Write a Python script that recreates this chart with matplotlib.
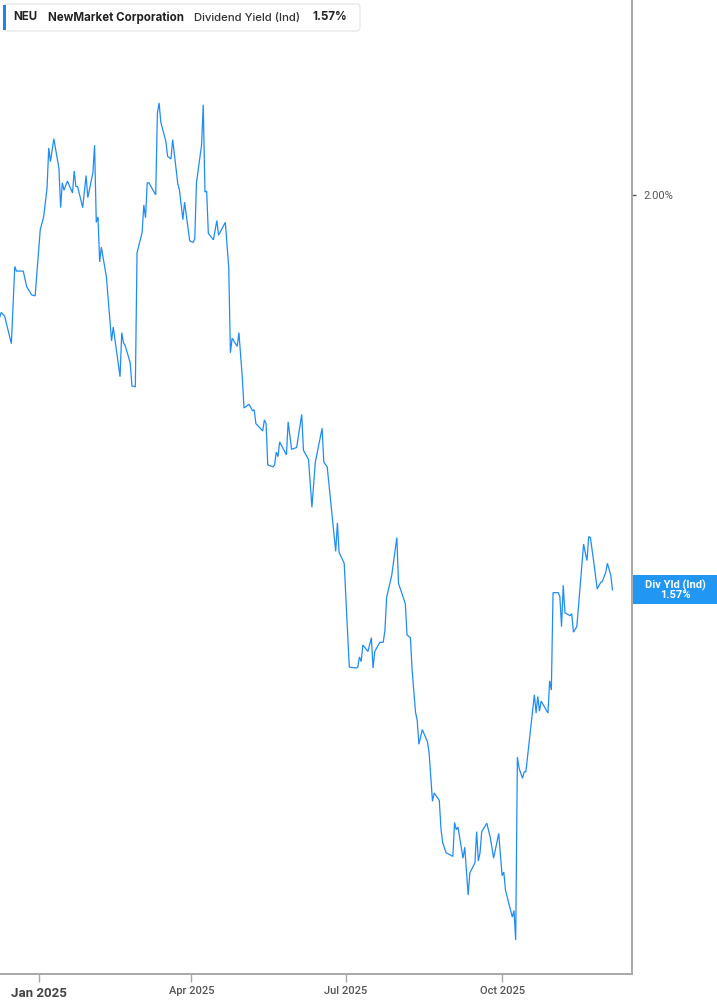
import matplotlib
matplotlib.use("Agg")
import matplotlib.pyplot as plt
import matplotlib.dates as mdates
from matplotlib.patches import Rectangle, FancyBboxPatch
from matplotlib.transforms import blended_transform_factory
import pandas as pd

# ---- data ----
dates = [
    "2024-12-09", "2024-12-10", "2024-12-12", "2024-12-16", "2024-12-18", "2024-12-19",
    "2024-12-23", "2024-12-25", "2024-12-28", "2024-12-30",
    "2025-01-02", "2025-01-04", "2025-01-06", "2025-01-07", "2025-01-08", "2025-01-10",
    "2025-01-13", "2025-01-14", "2025-01-15", "2025-01-16", "2025-01-18", "2025-01-21",
    "2025-01-22", "2025-01-23", "2025-01-24", "2025-01-27", "2025-01-29", "2025-01-30",
    "2025-02-02", "2025-02-03", "2025-02-04", "2025-02-05", "2025-02-06", "2025-02-07",
    "2025-02-10", "2025-02-13", "2025-02-14", "2025-02-18", "2025-02-19", "2025-02-20",
    "2025-02-21", "2025-02-24", "2025-02-25", "2025-02-27", "2025-02-28",
    "2025-03-03", "2025-03-04", "2025-03-05", "2025-03-06", "2025-03-07", "2025-03-11",
    "2025-03-12", "2025-03-13", "2025-03-14", "2025-03-17", "2025-03-18", "2025-03-20",
    "2025-03-21", "2025-03-24", "2025-03-25", "2025-03-27", "2025-03-28", "2025-03-31",
    "2025-04-02", "2025-04-03", "2025-04-04", "2025-04-07", "2025-04-08", "2025-04-09",
    "2025-04-10", "2025-04-11", "2025-04-14", "2025-04-16", "2025-04-17", "2025-04-21",
    "2025-04-23", "2025-04-24", "2025-04-25", "2025-04-28", "2025-04-29",
    "2025-05-01", "2025-05-02", "2025-05-05", "2025-05-07", "2025-05-08", "2025-05-09",
    "2025-05-13", "2025-05-14", "2025-05-15", "2025-05-16", "2025-05-19", "2025-05-20",
    "2025-05-21", "2025-05-22", "2025-05-23", "2025-05-27", "2025-05-28", "2025-05-30",
    "2025-06-02", "2025-06-05", "2025-06-06", "2025-06-09", "2025-06-11", "2025-06-13",
    "2025-06-17", "2025-06-18", "2025-06-20", "2025-06-25", "2025-06-26", "2025-06-27",
    "2025-06-30",
    "2025-07-03", "2025-07-07", "2025-07-08", "2025-07-09", "2025-07-10", "2025-07-11",
    "2025-07-14", "2025-07-16", "2025-07-17", "2025-07-18", "2025-07-21", "2025-07-23",
    "2025-07-24", "2025-07-25", "2025-07-28", "2025-07-31",
    "2025-08-01", "2025-08-05", "2025-08-06", "2025-08-08", "2025-08-09", "2025-08-11",
    "2025-08-12", "2025-08-13", "2025-08-15", "2025-08-18", "2025-08-19", "2025-08-21",
    "2025-08-22", "2025-08-25", "2025-08-26", "2025-08-27", "2025-08-29",
    "2025-09-02", "2025-09-03", "2025-09-04", "2025-09-05", "2025-09-08", "2025-09-09",
    "2025-09-11", "2025-09-12", "2025-09-15", "2025-09-16", "2025-09-17", "2025-09-18",
    "2025-09-19", "2025-09-22", "2025-09-24", "2025-09-26", "2025-09-29",
    "2025-10-01", "2025-10-02", "2025-10-03", "2025-10-07", "2025-10-08", "2025-10-09",
    "2025-10-10", "2025-10-11", "2025-10-13", "2025-10-14", "2025-10-15", "2025-10-20",
    "2025-10-21", "2025-10-22", "2025-10-23", "2025-10-24", "2025-10-28", "2025-10-29",
    "2025-10-30", "2025-10-31",
    "2025-11-03", "2025-11-04", "2025-11-05", "2025-11-06", "2025-11-07", "2025-11-10",
    "2025-11-11", "2025-11-12", "2025-11-14", "2025-11-18", "2025-11-19", "2025-11-20",
    "2025-11-21", "2025-11-22", "2025-11-24", "2025-11-26", "2025-11-28", "2025-11-29",
    "2025-12-01", "2025-12-02", "2025-12-04", "2025-12-05",
]
yields = [
    1.866, 1.872, 1.868, 1.838, 1.922, 1.917,
    1.917, 1.900, 1.891, 1.890,
    1.962, 1.976, 2.007, 2.051, 2.036, 2.061,
    2.029, 1.986, 2.013, 2.005, 2.015, 2.002,
    2.026, 2.009, 2.009, 1.986, 2.021, 1.997,
    2.024, 2.054, 1.970, 1.976, 1.927, 1.943,
    1.910, 1.841, 1.856, 1.802, 1.850, 1.839,
    1.836, 1.817, 1.792, 1.791, 1.937,
    1.959, 1.989, 1.975, 2.013, 2.013, 2.000,
    2.089, 2.100, 2.079, 2.058, 2.042, 2.039,
    2.060, 2.012, 2.005, 1.973, 1.992, 1.950,
    1.948, 1.952, 2.013, 2.054, 2.098, 2.003,
    2.004, 1.958, 1.951, 1.972, 1.956, 1.970,
    1.921, 1.828, 1.844, 1.835, 1.850,
    1.801, 1.768, 1.772, 1.765, 1.766, 1.751,
    1.743, 1.755, 1.751, 1.706, 1.704, 1.706,
    1.720, 1.715, 1.731, 1.717, 1.753, 1.723,
    1.725, 1.761, 1.722, 1.712, 1.660, 1.709,
    1.746, 1.709, 1.704, 1.612, 1.643, 1.611,
    1.599,
    1.486, 1.485, 1.486, 1.497, 1.492, 1.510,
    1.503, 1.518, 1.485, 1.503, 1.513, 1.513,
    1.526, 1.562, 1.586, 1.627,
    1.577, 1.555, 1.521, 1.518, 1.483, 1.437,
    1.428, 1.402, 1.418, 1.405, 1.393, 1.340,
    1.349, 1.341, 1.310, 1.295, 1.284,
    1.280, 1.317, 1.309, 1.312, 1.278, 1.290,
    1.238, 1.262, 1.273, 1.307, 1.275, 1.284,
    1.307, 1.316, 1.301, 1.278, 1.305,
    1.259, 1.263, 1.243, 1.214, 1.221, 1.189,
    1.388, 1.376, 1.365, 1.372, 1.372, 1.456,
    1.436, 1.454, 1.438, 1.449, 1.436, 1.471,
    1.461, 1.567,
    1.567, 1.563, 1.530, 1.575, 1.545, 1.542,
    1.544, 1.524, 1.530, 1.620, 1.610, 1.602,
    1.628, 1.627, 1.600, 1.571, 1.578, 1.579,
    1.589, 1.599, 1.586, 1.570,
]
tick_dates = ["2025-01-01", "2025-04-01", "2025-07-01", "2025-10-01"]
tick_labels = ["Jan 2025", "Apr 2025", "Jul 2025", "Oct 2025"]
ytick_vals = [2.00]
ticker = "NEU"
company = "NewMarket Corporation"
metric = "Dividend Yield (Ind)"
last_label = "Div Yld (Ind)"
last_value_text = "1.57%"

# ---- styling ----
W, H = 717, 1005
LINE = "#1f8cf5"
BOX = "#2196f3"
AX_GRAY = "#a8a8a8"
TXT = "#555555"

plt.rcParams["font.family"] = ["Roboto", "DejaVu Sans"]

fig = plt.figure(figsize=(W / 100, H / 100), dpi=100)
ax = fig.add_axes([0, 31 / H, 632 / W, 1 - 31 / H])

x = pd.to_datetime(dates)
ax.plot(x, yields, color=LINE, lw=0.9, solid_joinstyle="miter")

base = pd.Timestamp("2025-01-01")
ax.set_xlim(base + pd.Timedelta(days=-22.7), base + pd.Timedelta(days=349.5))
ax.set_ylim(1.152, 2.212)

for s in ("left", "top"):
    ax.spines[s].set_visible(False)
for s in ("right", "bottom"):
    ax.spines[s].set_color(AX_GRAY)
    ax.spines[s].set_linewidth(1.4)

tick_x = pd.to_datetime(tick_dates)
ax.set_xticks(tick_x)
ax.set_xticklabels([""] + tick_labels[1:])
ax.tick_params(axis="x", length=6, width=1.0, color=AX_GRAY, pad=2.5,
               labelsize=8, labelcolor=TXT)
for lab in ax.get_xticklabels():
    lab.set_fontweight("medium")
bt = blended_transform_factory(ax.transData, fig.transFigure)
ax.text(tick_x[0], 1 - 993 / H, tick_labels[0], transform=bt, fontsize=9.5,
        fontweight="bold", color="#444444", ha="center", va="center", clip_on=False)

ax.yaxis.tick_right()
ax.set_yticks(ytick_vals)
ax.set_yticklabels([f"{v:.2f}%" for v in ytick_vals])
ax.tick_params(axis="y", length=3, width=1.0, color="#555555", pad=5,
               labelsize=8, labelcolor=TXT)

# ---- legend box at top ----
def fx(px):
    return px / W

def fy(py):
    return 1 - py / H

leg = FancyBboxPatch((fx(4), fy(31)), fx(356), 27 / H,
                     boxstyle="round,pad=0,rounding_size=0.004",
                     transform=fig.transFigure, fc="white", ec="#e4e4e4", lw=0.8,
                     zorder=5)
fig.patches.append(leg)
fig.patches.append(Rectangle((fx(3), fy(30)), fx(3), 25 / H, transform=fig.transFigure,
                             fc="#1a84f0", ec="none", zorder=6))
ty = fy(17.5)
LF = ["Inter", "DejaVu Sans"]
LS = 8.3
fig.text(fx(13), ty, ticker, fontsize=LS, fontweight="bold", color="#222222",
         va="center", ha="left", zorder=7, family=LF)
fig.text(fx(48), ty, company, fontsize=LS, fontweight="bold", color="#222222",
         va="center", ha="left", zorder=7, family=LF)
fig.text(fx(194), ty, metric, fontsize=LS - 0.1, fontweight="medium", color="#333333",
         va="center", ha="left", zorder=7, family=LF)
fig.text(fx(312), ty, last_value_text, fontsize=LS, fontweight="bold", color="#222222",
         va="center", ha="left", zorder=7, family=LF)

# ---- last value box on right axis ----
disp = ax.transData.transform((mdates.date2num(x[-1]), yields[-1]))
yc = fig.transFigure.inverted().transform(disp)[1]
bh = 29 / H
fig.patches.append(Rectangle((fx(633), yc - bh / 2), fx(84), bh, transform=fig.transFigure,
                             fc=BOX, ec="none", zorder=6))
fig.text(fx(675), yc, f"{last_label}\n{last_value_text}", fontsize=8, fontweight="bold",
         color="white", ha="center", va="center", linespacing=0.95, zorder=7)

fig.savefig("out.png", dpi=100)
